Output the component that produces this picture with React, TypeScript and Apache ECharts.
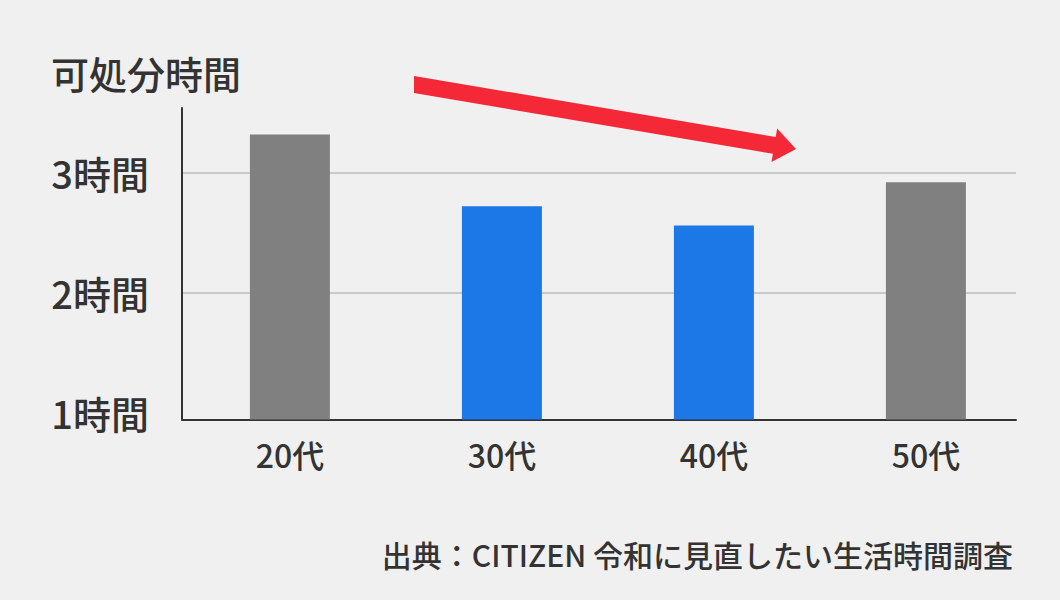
import React, { useEffect, useRef } from "react";
import * as echarts from "echarts";

const categories = ["20代", "30代", "40代", "50代"];
const hours = [3.32, 2.72, 2.56, 2.92];
const barColors = ["#808080", "#1b78e6", "#1b78e6", "#808080"];
const yTickValues = [1, 2, 3];
const yGridValues = [2, 3];
const titleText = "可処分時間";
const sourceText = "出典：CITIZEN 令和に見直したい生活時間調査";

const FONT = '"Noto Sans CJK JP Medium", "Noto Sans CJK JP", "Noto Sans", sans-serif';

function arrowPoints(): number[][] {
  const S = [414, 84.5];
  const T = [796, 149];
  const dx = T[0] - S[0];
  const dy = T[1] - S[1];
  const len = Math.hypot(dx, dy);
  const ux = dx / len;
  const uy = dy / len;
  const nx = -uy;
  const ny = ux;
  const h = 8.5;
  const H = 17;
  const headLen = 22;
  const Bx = T[0] - ux * headLen;
  const By = T[1] - uy * headLen;
  return [
    [S[0], S[1] - h],
    [Bx - nx * h, By - ny * h],
    [Bx - nx * H, By - ny * H],
    [T[0], T[1]],
    [Bx + nx * H, By + ny * H],
    [Bx + nx * h, By + ny * h],
    [S[0], S[1] + h],
  ];
}

export default function App() {
  const ref = useRef<HTMLDivElement>(null);
  useEffect(() => {
    if (!ref.current) return;
    const chart = echarts.init(ref.current, null, { renderer: "svg" });
    const pts = arrowPoints();
    chart.setOption({
      animation: false,
      backgroundColor: "#f0f0f0",
      textStyle: { fontFamily: FONT },
      title: [
        {
          text: titleText,
          left: 46,
          top: 48,
          textStyle: { fontFamily: FONT, fontSize: 38, fontWeight: "normal", color: "#333" },
        },
        {
          text: sourceText,
          right: 42,
          top: 534,
          textStyle: { fontFamily: FONT, fontSize: 30, fontWeight: "normal", color: "#333" },
        },
      ],
      grid: { left: 182, right: 44, top: 108, bottom: 180.5, containLabel: false },
      xAxis: {
        type: "value",
        min: -0.509,
        max: 3.425,
        axisLine: { show: true, onZero: false, lineStyle: { color: "#333", width: 2 } },
        axisTick: { show: false },
        splitLine: { show: false },
        axisLabel: {
          customValues: [0, 1, 2, 3],
          formatter: (v: number) => categories[Math.round(v)] ?? "",
          fontFamily: FONT,
          fontSize: 32,
          fontWeight: "normal",
          color: "#333",
          margin: 18,
        },
      },
      yAxis: {
        type: "value",
        min: 0.943,
        max: 3.54,
        axisLine: { show: true, onZero: false, lineStyle: { color: "#333", width: 2 } },
        axisTick: { show: false, customValues: yGridValues },
        splitLine: { show: true, lineStyle: { color: "#bdbdbd", width: 1.5 } },
        axisLabel: {
          customValues: yTickValues,
          formatter: (v: number) => `${Math.round(v)}時間`,
          fontFamily: FONT,
          fontSize: 38,
          fontWeight: "normal",
          color: "#333",
          margin: 33,
        },
      },
      series: [
        {
          type: "bar",
          barWidth: 80,
          clip: true,
          data: hours.map((h, i) => ({ value: [i, h], itemStyle: { color: barColors[i] } })),
        },
      ],
      graphic: [
        {
          type: "polygon",
          shape: { points: pts },
          style: { fill: "#f52838" },
          z: 10,
        },
      ],
    });
    return () => chart.dispose();
  }, []);
  return (
    <div
      ref={ref}
      style={{ position: "fixed", left: 0, top: 0, width: 1060, height: 600 }}
    />
  );
}
